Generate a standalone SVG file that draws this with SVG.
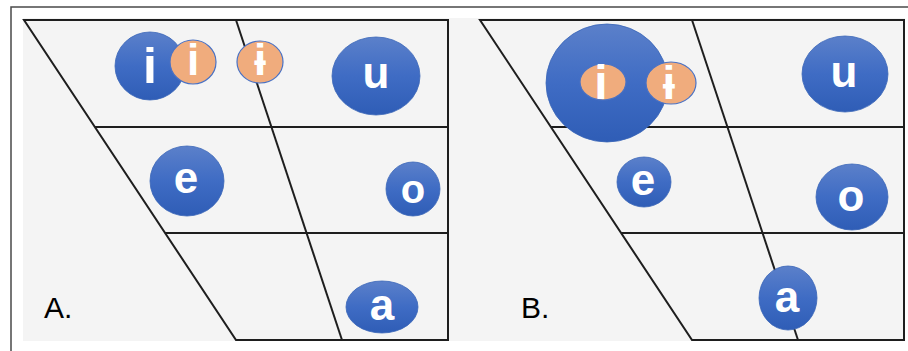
<svg xmlns="http://www.w3.org/2000/svg" width="908" height="351" viewBox="0 0 908 351">
<style>
.grid{fill:none;stroke:#1e1e1e;stroke-width:2;stroke-linejoin:miter}
.blue{fill:url(#bg);stroke:#3a66b8;stroke-width:0.8}
.orange{fill:#f0ac7d;stroke:#4a72c4;stroke-width:1.2}
.v{font-family:"Liberation Sans","DejaVu Sans",sans-serif;font-weight:bold;fill:#ffffff;text-anchor:middle}
.lab{font-family:"Liberation Sans",Arial,sans-serif;font-size:30px;fill:#000000}
</style>
<defs>
<linearGradient id="bg" x1="0" y1="0" x2="0" y2="1">
<stop offset="0" stop-color="#5b80ca"/>
<stop offset="0.5" stop-color="#3f6cc4"/>
<stop offset="1" stop-color="#2f5db6"/>
</linearGradient>
</defs>
<rect x="0" y="0" width="908" height="351" fill="#ffffff"/>
<path d="M11,351 V7 H908" fill="none" stroke="#4a4a4a" stroke-width="1.5"/>
<rect x="23" y="18" width="882" height="323" fill="#f4f4f4"/>
<g id="connectors">
<g id="chartA">
<path class="grid" d="M24,20 H448 V340 H236 Z"/>
<line class="grid" x1="236" y1="20" x2="342" y2="340"/>
<line class="grid" x1="95" y1="127" x2="448" y2="127"/>
<line class="grid" x1="165" y1="233" x2="448" y2="233"/>
</g>
<g id="chartB">
<path class="grid" d="M480,20 H904 V340 H692 Z"/>
<line class="grid" x1="692" y1="20" x2="798" y2="340"/>
<line class="grid" x1="551" y1="127" x2="904" y2="127"/>
<line class="grid" x1="621" y1="233" x2="904" y2="233"/>
</g>
</g>
<g id="A-i"><ellipse class="blue" cx="150" cy="66" rx="35" ry="34"/><text class="v" x="150" y="83" font-size="50">i</text></g>
<g id="A-i-orange"><ellipse class="orange" cx="193" cy="62" rx="23" ry="22"/><text class="v" x="193" y="75" font-size="44">i</text></g>
<g id="A-barred-i"><ellipse class="orange" cx="260" cy="62" rx="23" ry="21"/><text class="v" x="260" y="75" font-size="44">ɨ</text></g>
<g id="A-u"><ellipse class="blue" cx="376" cy="76" rx="44" ry="39"/><text class="v" x="376" y="88" font-size="44">u</text></g>
<g id="A-e"><ellipse class="blue" cx="187" cy="181" rx="37" ry="35"/><text class="v" x="186" y="193" font-size="44">e</text></g>
<g id="A-o"><ellipse class="blue" cx="413" cy="189" rx="27" ry="27"/><text class="v" x="413" y="203" font-size="40">o</text></g>
<g id="A-a"><ellipse class="blue" cx="382" cy="307" rx="36" ry="26"/><text class="v" x="382" y="320" font-size="44">a</text></g>
<g id="label-A"><text class="lab" x="44" y="318">A.</text></g>
<g id="B-big"><ellipse class="blue" cx="607" cy="83" rx="61" ry="59"/></g>
<g id="B-i-orange"><ellipse class="orange" cx="603" cy="82" rx="23" ry="18" stroke="none"/><text class="v" x="601" y="99" font-size="48">i</text></g>
<g id="B-barred-i"><ellipse class="orange" cx="671" cy="83" rx="25" ry="21"/><text class="v" x="669" y="99" font-size="46">ɨ</text></g>
<g id="B-u"><ellipse class="blue" cx="845" cy="74" rx="43" ry="38"/><text class="v" x="844" y="87" font-size="44">u</text></g>
<g id="B-e"><ellipse class="blue" cx="644" cy="182" rx="27" ry="25"/><text class="v" x="643" y="195" font-size="44">e</text></g>
<g id="B-o"><ellipse class="blue" cx="852" cy="197" rx="36" ry="33"/><text class="v" x="851" y="211" font-size="44">o</text></g>
<g id="B-a"><ellipse class="blue" cx="788" cy="298" rx="29" ry="32"/><text class="v" x="787" y="312" font-size="44">a</text></g>
<g id="label-B"><text class="lab" x="521" y="318">B.</text></g>
</svg>
